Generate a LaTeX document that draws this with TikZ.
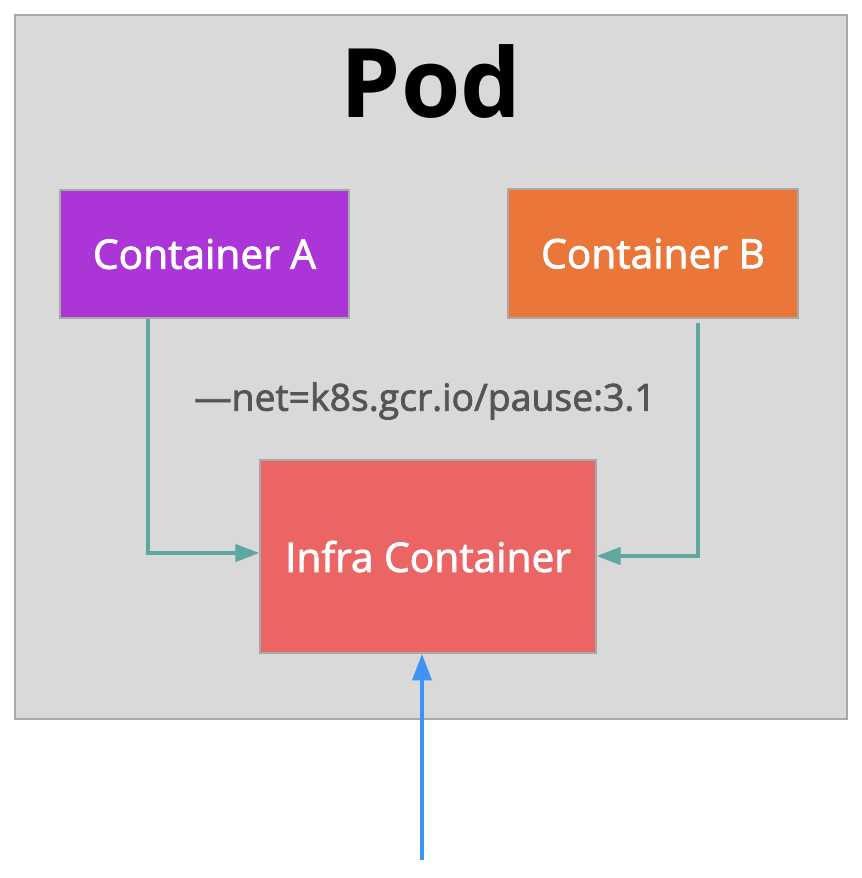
\documentclass[tikz,border=0pt]{standalone}
\usepackage{fontspec}
\setmainfont{Open Sans}
\newfontfamily\medfont[FakeBold=2]{Open Sans}
\usetikzlibrary{arrows.meta}
\definecolor{podfill}{HTML}{D9D9D9}
\definecolor{podline}{HTML}{A8A8A8}
\definecolor{cA}{HTML}{AC35D8}
\definecolor{cB}{HTML}{EB763A}
\definecolor{cI}{HTML}{EC6565}
\definecolor{teal}{HTML}{5FA8A0}
\definecolor{blueln}{HTML}{3D94F5}
\definecolor{lbl}{HTML}{555555}
\tikzset{
  box/.style={draw=podline, line width=1pt, text=white, font=\medfont\fontsize{30.5}{34}\selectfont, inner sep=0pt},
  link/.style={draw=teal, line width=2.6pt, -{Triangle[length=18pt,width=13pt]}},
}
\begin{document}
\begin{tikzpicture}[x=0.75pt,y=-0.75pt]
\useasboundingbox (0,0) rectangle (862,878);
\node[draw=podline, fill=podfill, line width=1.5pt, minimum width=832*0.75pt, minimum height=704*0.75pt, inner sep=0pt] (pod) at (431,367) {};
\node[font=\fontsize{72}{80}\selectfont\bfseries, text=black] (title) at (431,81) {Pod};
\node[box, fill=cA, minimum width=289*0.75pt, minimum height=128*0.75pt] (A) at (204.5,254) {Container A};
\node[box, fill=cB, minimum width=290*0.75pt, minimum height=129*0.75pt] (B) at (653,253.5) {Container B};
\node[box, fill=cI, minimum width=336*0.75pt, minimum height=193*0.75pt] (I) at (428,556.5) {Infra Container};
\node[text=lbl, font=\medfont\fontsize{28}{32}\selectfont] (lab) at (425,401) {—net=k8s.gcr.io/pause:3.1};
\coordinate (src) at (422,860);
\draw[link] (A.south -| 148,0) |- (I.west |- 0,553);
\draw[link] (B.south -| 698,0) ++(0,4) |- (I.east |- 0,556);
\draw[draw=blueln, line width=3.5pt, -{Triangle[length=20pt,width=14pt]}] (src) -- (I.south -| src);
\end{tikzpicture}
\end{document}
